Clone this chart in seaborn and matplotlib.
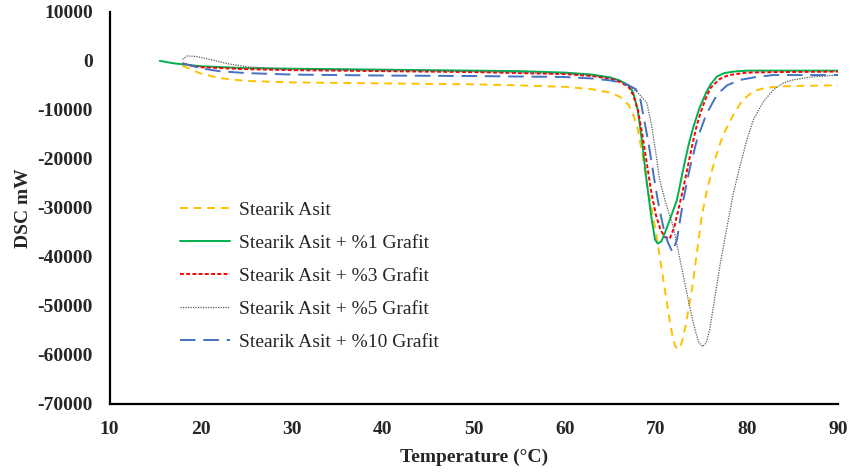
import numpy as np
import pandas as pd
import seaborn as sns
import matplotlib.pyplot as plt

labels = ['Stearik Asit', 'Stearik Asit + %1 Grafit', 'Stearik Asit + %3 Grafit',
          'Stearik Asit + %5 Grafit', 'Stearik Asit + %10 Grafit']

t_sa = [18, 19, 20, 22, 25, 30, 40, 50, 55, 60, 63, 65, 66, 67, 67.5, 68, 68.5, 69, 69.5, 70,
        70.5, 71, 71.5, 71.8, 72.1, 72.4, 72.7, 73.0, 73.4, 74, 74.5, 75, 75.6, 76.5, 77.2, 77.8,
        78.5, 79.5, 80.7, 82, 84, 86, 90]
dsc_sa = [-1000, -1800, -2600, -3500, -4100, -4400, -4600, -4800, -5000, -5300, -5800, -6500,
          -7300, -9000, -11000, -14000, -19000, -25000, -30000, -35000, -41000, -47000, -53000,
          -56000, -58200, -58800, -58300, -56300, -52500, -46000, -39000, -32000, -26300, -20000,
          -16000, -13500, -11000, -8000, -6200, -5500, -5200, -5100, -5000]

t_g1 = [15.5, 17, 19, 20, 25, 30, 40, 50, 55, 60, 63, 65, 66, 67, 67.5, 68, 68.5, 69, 69.5, 69.9,
        70.2, 70.6, 71, 71.5, 72.3, 73, 73.6, 74.1, 74.8, 75.5, 76, 76.7, 77.5, 78.5, 80, 83, 90]
dsc_g1 = [0, -500, -900, -1100, -1500, -1600, -1800, -2000, -2100, -2400, -2800, -3400, -4000,
          -5000, -6500, -10000, -17000, -25000, -32000, -36500, -37300, -36800, -35000, -32500,
          -28400, -22000, -17000, -13500, -9500, -6500, -4800, -3200, -2500, -2200, -2000, -2000,
          -2000]

t_g3 = [18, 19, 20, 25, 30, 40, 50, 60, 63, 65, 66, 67, 67.5, 68, 68.5, 69, 69.5, 70, 70.5, 71,
        71.5, 72, 72.5, 73, 73.5, 74, 74.5, 75, 75.5, 76, 77, 78, 80, 83, 90]
dsc_g3 = [-500, -1000, -1300, -1700, -1900, -2100, -2300, -2700, -3100, -3700, -4300, -5300,
          -7000, -10000, -15000, -21000, -27000, -31500, -34500, -36000, -36300, -34000, -30000,
          -26000, -21500, -17000, -13000, -10000, -7500, -5500, -3700, -2900, -2400, -2300, -2200]

t_g5 = [18, 18.5, 19.5, 21, 23, 25, 30, 40, 50, 60, 63, 65, 66, 67, 68, 68.5, 69, 69.5, 70, 70.4,
        71, 71.9, 72.8, 73.7, 74.3, 74.7, 75.1, 75.5, 75.9, 76.3, 77, 77.8, 78.5, 79.2, 80, 80.7,
        81.8, 82.9, 84, 85, 87, 90]
dsc_g5 = [300, 1000, 900, 300, -600, -1200, -1800, -2000, -2200, -2600, -3000, -3500, -4000,
          -5000, -6500, -7500, -8600, -13000, -19000, -24300, -28500, -33900, -42000, -50200,
          -55000, -57400, -58300, -57600, -54800, -50200, -42000, -33900, -27000, -21600, -16000,
          -12000, -8300, -5900, -4500, -3900, -3300, -2900]

t_g10 = [18, 19, 20, 22, 25, 30, 40, 50, 60, 63, 65, 66, 67, 67.8, 68.3, 68.8, 69.2, 69.7, 70.2,
         70.8, 71.3, 71.8, 72.3, 73, 73.7, 74.5, 75.5, 76.7, 77.8, 79.2, 81, 82.9, 86, 90]
dsc_g10 = [-500, -1000, -1500, -2100, -2500, -2800, -3000, -3100, -3300, -3600, -4000, -4400,
           -5000, -5800, -8000, -13000, -17000, -22900, -28500, -33900, -37000, -39000, -36500,
           -28400, -22000, -16100, -11000, -6900, -5000, -3900, -3300, -2900, -2900, -2900]

series = [(t_sa, dsc_sa), (t_g1, dsc_g1), (t_g3, dsc_g3), (t_g5, dsc_g5), (t_g10, dsc_g10)]
colors = ['#FFC000', '#00B050', '#FF0000', '#595959', '#4472C4']
styles = [(0, (4, 3)), '-', (0, (2, 1.2)), (0, (1, 1)), (0, (8, 4))]
widths = [1.4, 1.4, 1.4, 0.9, 1.4]

sns.set_style('white')
plt.rcParams['font.family'] = ['Liberation Serif', 'DejaVu Serif']
plt.rcParams['axes.unicode_minus'] = False

fig, ax = plt.subplots(figsize=(8.5, 4.73), dpi=100)
fig.subplots_adjust(left=0.129, right=0.986, top=0.975, bottom=0.146)

for (t, d), lab, c, ls, lw in zip(series, labels, colors, styles, widths):
    sns.lineplot(x=t, y=d, ax=ax, color=c, linestyle=ls, linewidth=lw, label=lab, sort=False)

ax.set_xlim(10, 90)
ax.set_ylim(-70000, 10000)
ax.set_xticks(range(10, 91, 10))
ax.set_yticks(range(-70000, 10001, 10000))
ax.set_xlabel('Temperature (\u00b0C)', fontsize=14, fontweight='bold', labelpad=8)
ax.set_ylabel('DSC mW', fontsize=14, fontweight='bold', labelpad=4)
for lbl in ax.get_xticklabels() + ax.get_yticklabels():
    lbl.set_fontweight('bold')
    lbl.set_fontsize(14)
ax.tick_params(direction='in', length=5, width=1.3, color='black')
ax.tick_params(axis='y', pad=12)
ax.tick_params(axis='x', pad=12)
sns.despine(ax=ax)
for s in ['left', 'bottom']:
    ax.spines[s].set_color('black')
    ax.spines[s].set_linewidth(1.6)

ax.legend(loc='upper left', bbox_to_anchor=(0.072, 0.562), frameon=False, fontsize=14,
          handlelength=2.6, labelspacing=0.79, handletextpad=0.45)

fig.savefig('out.png', dpi=100)
